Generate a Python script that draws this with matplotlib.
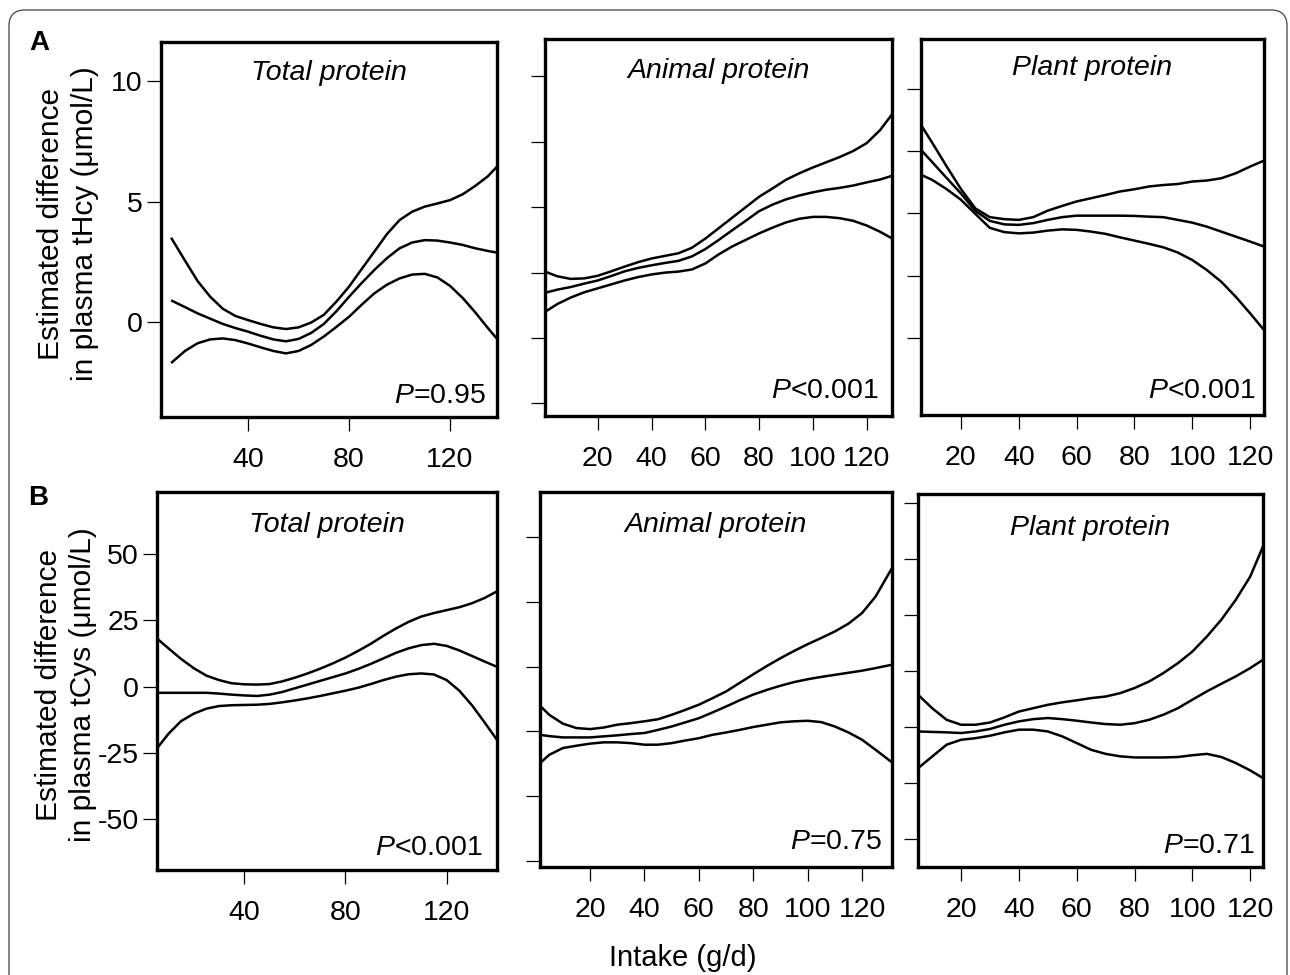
import matplotlib
matplotlib.use("Agg")
import matplotlib.pyplot as plt
from matplotlib.patches import FancyBboxPatch

plt.rcParams['font.family'] = ['Liberation Sans', 'DejaVu Sans']
plt.rcParams['mathtext.fontset'] = 'custom'
plt.rcParams['mathtext.rm'] = 'Liberation Sans'
plt.rcParams['mathtext.it'] = 'Liberation Sans:italic'
plt.rcParams['mathtext.bf'] = 'Liberation Sans:bold'

# ---------------- data ----------------
titles = ["Total protein", "Animal protein", "Plant protein"]
p_texts_A = ["$P$=0.95", "$P$<0.001", "$P$<0.001"]
p_texts_B = ["$P$<0.001", "$P$=0.75", "$P$=0.71"]

xticks_total = [40, 80, 120]
xticks_sub = [20, 40, 60, 80, 100, 120]

# A: plasma tHcy
xA1 = [9.5, 15, 20, 25, 30, 35, 40, 45, 50, 55, 60, 65, 70, 75, 80, 85, 90, 95, 100,
       105, 110, 115, 120, 125, 130, 135, 138.6]
A1_up = [3.50, 2.55, 1.70, 1.05, 0.55, 0.25, 0.08, -0.08, -0.22, -0.29, -0.22, -0.02, 0.30,
         0.85, 1.47, 2.20, 2.92, 3.65, 4.23, 4.58, 4.79, 4.92, 5.06, 5.30, 5.65, 6.05, 6.45]
A1_mid = [0.90, 0.62, 0.36, 0.14, -0.08, -0.25, -0.40, -0.57, -0.72, -0.80, -0.70, -0.45, -0.08,
          0.45, 1.05, 1.62, 2.16, 2.65, 3.06, 3.30, 3.40, 3.38, 3.30, 3.20, 3.06, 2.95, 2.88]
A1_lo = [-1.70, -1.20, -0.88, -0.72, -0.68, -0.75, -0.89, -1.05, -1.20, -1.30, -1.20, -0.95, -0.60,
         -0.20, 0.22, 0.72, 1.19, 1.55, 1.81, 1.97, 2.00, 1.85, 1.50, 1.00, 0.40, -0.25, -0.70]

xA2 = [0.4, 5, 10, 15, 20, 25, 30, 35, 40, 45, 50, 55, 60, 65, 70, 75, 80, 85, 90, 95, 100,
       105, 110, 115, 120, 125, 129.4]
A2_up = [2.54, 2.36, 2.26, 2.28, 2.38, 2.55, 2.73, 2.90, 3.04, 3.14, 3.24, 3.45, 3.80, 4.20,
         4.60, 5.00, 5.40, 5.72, 6.05, 6.30, 6.52, 6.72, 6.92, 7.15, 7.45, 7.95, 8.55]
A2_mid = [1.73, 1.85, 1.95, 2.08, 2.20, 2.37, 2.55, 2.68, 2.78, 2.87, 2.95, 3.12, 3.40, 3.75,
          4.12, 4.48, 4.85, 5.10, 5.30, 5.45, 5.57, 5.67, 5.74, 5.83, 5.95, 6.06, 6.20]
A2_lo = [1.00, 1.30, 1.55, 1.75, 1.90, 2.05, 2.20, 2.33, 2.43, 2.50, 2.54, 2.62, 2.85, 3.20,
         3.50, 3.75, 4.00, 4.22, 4.42, 4.56, 4.63, 4.63, 4.58, 4.48, 4.30, 4.06, 3.81]

xA3 = [6.2, 10, 15, 20, 25, 30, 35, 40, 45, 50, 55, 60, 65, 70, 75, 80, 85, 90, 95, 100,
       105, 110, 115, 120, 124.8]
A3_up = [8.55, 7.85, 6.90, 5.98, 5.20, 4.85, 4.77, 4.74, 4.85, 5.11, 5.30, 5.48, 5.61, 5.74,
         5.88, 5.97, 6.08, 6.14, 6.18, 6.28, 6.32, 6.41, 6.61, 6.88, 7.12]
A3_mid = [7.55, 7.07, 6.43, 5.80, 5.10, 4.70, 4.56, 4.54, 4.61, 4.74, 4.85, 4.91, 4.91, 4.91,
          4.91, 4.90, 4.87, 4.85, 4.74, 4.63, 4.47, 4.27, 4.07, 3.87, 3.67]
A3_lo = [6.55, 6.35, 5.98, 5.55, 4.98, 4.42, 4.25, 4.20, 4.23, 4.31, 4.36, 4.34, 4.27, 4.18,
         4.04, 3.91, 3.78, 3.64, 3.43, 3.13, 2.73, 2.26, 1.66, 0.99, 0.32]

# B: plasma tCys
xB1 = [5.5, 10, 15, 20, 25, 30, 35, 40, 45, 50, 55, 60, 65, 70, 75, 80, 85, 90, 95, 100,
       105, 110, 115, 120, 125, 130, 135, 139.9]
B1_up = [18.2, 14.5, 10.5, 7.0, 4.2, 2.5, 1.3, 0.9, 0.8, 1.0, 2.0, 3.4, 5.0, 6.8, 8.8, 11.0,
         13.5, 16.2, 19.2, 22.0, 24.5, 26.5, 27.8, 28.9, 30.0, 31.5, 33.5, 36.0]
B1_mid = [-2.3, -2.3, -2.3, -2.3, -2.3, -2.6, -3.0, -3.3, -3.5, -3.0, -2.0, -0.6, 0.8, 2.2,
          3.6, 5.0, 6.7, 8.6, 10.7, 12.8, 14.5, 15.7, 16.2, 15.4, 13.7, 11.6, 9.5, 7.5]
B1_lo = [-23.3, -17.8, -13.0, -10.2, -8.3, -7.3, -7.0, -6.9, -6.8, -6.5, -5.9, -5.2, -4.4, -3.5,
         -2.5, -1.5, -0.4, 1.0, 2.5, 3.8, 4.7, 5.0, 4.6, 2.5, -1.5, -7.0, -13.5, -20.1]

xB2 = [1.6, 5, 10, 15, 20, 25, 30, 35, 40, 45, 50, 55, 60, 65, 70, 75, 80, 85, 90, 95, 100,
       105, 110, 115, 120, 125, 131]
B2_up = [9.9, 6.4, 3.0, 1.3, 0.9, 1.5, 2.6, 3.2, 3.9, 4.7, 6.4, 8.3, 10.3, 12.8, 15.4, 18.7,
         22.0, 25.2, 28.2, 31.0, 33.6, 36.0, 38.5, 41.5, 45.6, 52.0, 62.9]
B2_mid = [-1.3, -1.8, -2.3, -2.3, -2.3, -1.9, -1.5, -1.0, -0.6, 0.6, 1.9, 3.5, 5.1, 7.3, 9.6,
          12.0, 14.2, 16.0, 17.6, 19.0, 20.1, 21.0, 21.8, 22.6, 23.4, 24.4, 25.7]
B2_lo = [-12.2, -9.0, -6.4, -5.5, -4.7, -4.2, -4.2, -4.5, -5.1, -5.1, -4.5, -3.5, -2.6, -1.3,
         -0.4, 0.6, 1.7, 2.6, 3.5, 3.9, 4.1, 3.6, 1.9, -0.4, -3.2, -7.1, -11.9]

xB3 = [5.1, 10, 15, 20, 25, 30, 35, 40, 45, 50, 55, 60, 65, 70, 75, 80, 85, 90, 95, 100,
       105, 110, 115, 120, 124.4]
B3_up = [14.6, 8.6, 3.4, 1.2, 1.2, 2.2, 4.5, 7.1, 8.6, 10.1, 11.2, 12.1, 13.1, 13.8, 15.3,
         17.6, 20.5, 24.3, 28.7, 33.9, 40.6, 48.1, 57.0, 67.4, 80.8]
B3_mid = [-1.8, -2.0, -2.2, -2.5, -1.8, -0.7, 1.2, 2.7, 3.7, 4.2, 3.7, 3.0, 2.2, 1.5, 1.2,
          1.9, 3.4, 5.7, 8.6, 12.4, 16.1, 19.5, 22.8, 26.5, 30.2]
B3_lo = [-18.2, -13.0, -7.7, -5.5, -4.8, -3.7, -2.2, -1.0, -1.0, -1.8, -4.0, -7.0, -10.0,
         -11.8, -12.9, -13.4, -13.4, -13.4, -13.2, -12.4, -11.8, -13.2, -15.9, -19.2, -22.6]

yticks_A = [[0, 5, 10], [-2.5, 0, 2.5, 5, 7.5, 10], [0, 2.5, 5, 7.5, 10]]
yticks_B = [[-50, -25, 0, 25, 50], [-50, -25, 0, 25, 50, 75], [-50, -25, 0, 25, 50, 75, 100]]

# ---------------- layout ----------------
W, H = 1290, 975
fig = plt.figure(figsize=(W / 100, H / 100), dpi=100)

# figure border (rounded)
border = FancyBboxPatch((9, -30), 1278, 995, boxstyle="round,pad=0,rounding_size=16",
                        transform=None, facecolor='none', edgecolor='#555555', linewidth=1.0)
fig.patches.append(border)


def ax_px(left, top, right, bottom):
    return fig.add_axes([left / W, 1 - bottom / H, (right - left) / W, (bottom - top) / H])


panels = [
    ((161, 42, 497, 417), (5.5, 138.6), (-3.94, 11.62), xA1, (A1_up, A1_mid, A1_lo),
     xticks_total, yticks_A[0], True, titles[0], p_texts_A[0], 38, (11, 14)),
    ((545, 39, 892, 416), (0.4, 129.4), (-2.98, 11.43), xA2, (A2_up, A2_mid, A2_lo),
     xticks_sub, yticks_A[1], False, titles[1], p_texts_A[1], 39, (14, 18)),
    ((921, 39, 1264, 415), (6.2, 124.8), (-3.09, 12.0), xA3, (A3_up, A3_mid, A3_lo),
     xticks_sub, yticks_A[2], False, titles[2], p_texts_A[2], 36, (9, 17)),
    ((157, 492, 497, 870), (5.5, 139.9), (-69.2, 73.5), xB1, (B1_up, B1_mid, B1_lo),
     xticks_total, yticks_B[0], True, titles[0], p_texts_B[0], 40, (15, 15)),
    ((540, 492, 892, 867), (1.6, 131.0), (-52.2, 92.2), xB2, (B2_up, B2_mid, B2_lo),
     xticks_sub, yticks_B[1], False, titles[1], p_texts_B[1], 40, (10, 18)),
    ((918, 494, 1263, 867), (5.1, 124.4), (-62.3, 104.2), xB3, (B3_up, B3_mid, B3_lo),
     xticks_sub, yticks_B[2], False, titles[2], p_texts_B[2], 41, (8, 14)),
]

for (box, xlim, ylim, xs, curves, xt, yt, showy, title, ptxt, toff, poff) in panels:
    ax = ax_px(*box)
    for c in curves:
        ax.plot(xs, c, color='black', linewidth=1.8, solid_joinstyle='round',
                solid_capstyle='butt')
    ax.set_xlim(*xlim)
    ax.set_ylim(*ylim)
    ax.set_xticks(xt)
    ax.set_xticklabels([str(v) for v in xt])
    ax.set_yticks(yt)
    if showy:
        ax.set_yticklabels([f"{v:g}" for v in yt])
    else:
        ax.set_yticklabels([])
    for s in ax.spines.values():
        s.set_linewidth(2.4)
    ax.tick_params(axis='x', direction='out', length=10, width=0.9, pad=11.5, labelsize=20.5)
    ax.tick_params(axis='y', direction='out', length=10, width=0.9, pad=3, labelsize=20.5)
    ax.annotate(title, xy=(0.5, 1), xycoords='axes fraction', xytext=(0, -toff),
                textcoords='offset pixels', ha='center', va='baseline',
                fontsize=20.5, style='italic')
    ax.annotate(ptxt, xy=(1, 0), xycoords='axes fraction', xytext=(-poff[0], poff[1]),
                textcoords='offset pixels', ha='right', va='baseline', fontsize=20.5)

fig.text(68 / W, 1 - 224 / H, "Estimated difference\nin plasma tHcy (\u03bcmol/L)",
         rotation=90, ha='center', va='center', fontsize=21.5, linespacing=1.25,
         multialignment='center')
fig.text(66 / W, 1 - 685 / H, "Estimated difference\nin plasma tCys (\u03bcmol/L)",
         rotation=90, ha='center', va='center', fontsize=21.5, linespacing=1.25,
         multialignment='center')

fig.text(29 / W, 1 - 50 / H, "A", fontsize=20, fontweight='bold', ha='left', va='baseline')
fig.text(28 / W, 1 - 505 / H, "B", fontsize=20, fontweight='bold', ha='left', va='baseline')

fig.text(683 / W, 1 - 958 / H, "Intake (g/d)", fontsize=21, ha='center', va='center')

fig.savefig("out.png", dpi=100)
